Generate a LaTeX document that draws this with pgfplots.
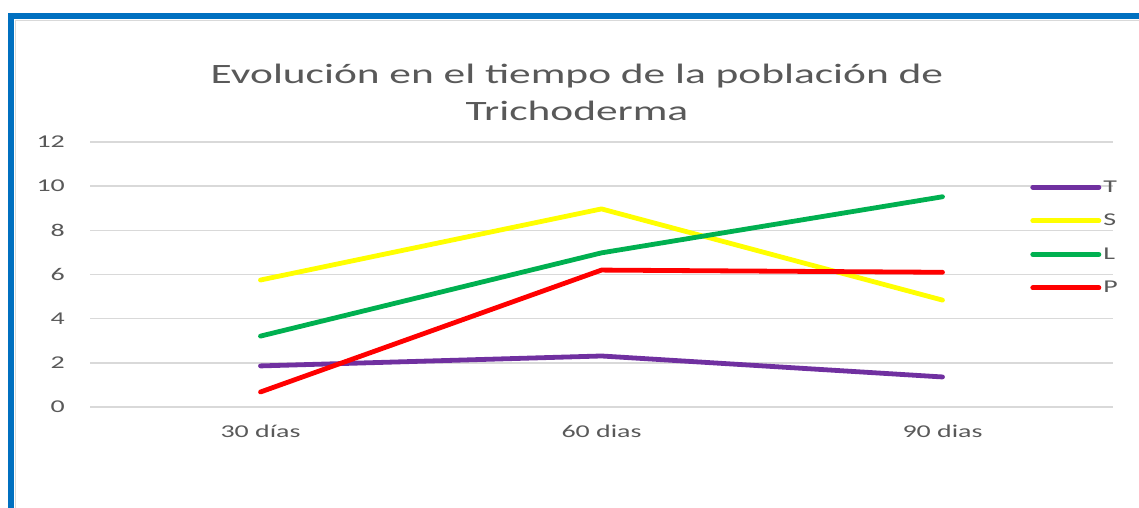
\documentclass[border=0pt]{standalone}
\usepackage{fontspec}
\setmainfont{Carlito}[FakeStretch=1.55]
\usepackage{pgfplots}
\pgfplotsset{compat=1.18}
\definecolor{cT}{HTML}{7030A0}
\definecolor{cS}{HTML}{FFFF00}
\definecolor{cL}{HTML}{00B050}
\definecolor{cP}{HTML}{FF0000}
\definecolor{txt}{HTML}{595959}
\definecolor{grd}{HTML}{D9D9D9}
\definecolor{frame}{HTML}{0070C0}
\begin{document}
\begin{tikzpicture}
\path[use as bounding box] (0pt,0pt) rectangle (1139pt,508pt);
\fill[white] (0pt,0pt) rectangle (1139pt,508pt);
% screenshot frame
\fill[frame] (8pt,0pt) rectangle (14pt,495pt);
\fill[frame] (8pt,489pt) rectangle (1139pt,495pt);
\draw[grd, line width=1pt] (15.5pt,0pt) -- (15.5pt,487.5pt) -- (1139pt,487.5pt);
% title
\node[txt, font=\fontsize{28}{32}\selectfont] at (577pt,432pt) {Evolución en el tiempo de la población de};
\node[txt, font=\fontsize{28}{32}\selectfont] at (577pt,397pt) {Trichoderma};
\begin{axis}[
  at={(90pt,101pt)}, anchor=south west,
  scale only axis, width=1023pt, height=265pt,
  xmin=-0.5, xmax=2.5, ymin=0, ymax=12,
  xtick={0,1,2}, xticklabels={30 días, 60 dias, 90 dias},
  ytick={0,2,...,12},
  axis line style={draw=none},
  major tick length=0pt,
  ymajorgrids, grid style={grd, line width=1.5pt},
  tick label style={txt, font=\fontsize{18}{21}\selectfont},
  /pgf/number format/assume math mode=true,
  yticklabel style={anchor=east, inner sep=0pt, xshift=-25pt},
  xticklabel style={anchor=north, inner sep=0pt, yshift=-18pt},
  legend style={at={(rel axis cs:0.919,0.855)}, anchor=north west, draw=none, fill=none,
    inner sep=0pt, row sep=20.5pt, font=\fontsize{18}{21}\selectfont, text=txt,
    nodes={inner sep=0pt}},
  legend cell align=left,
  legend image code/.code={\draw[#1, line width=5pt, line cap=round] (0pt,0pt) -- (66pt,0pt);},
  every axis plot/.append style={line width=4.8pt, line cap=round, line join=round},
]
\addplot[cT, no marks] coordinates {(0,1.86) (1,2.31) (2,1.36)};
\addplot[cS, no marks] coordinates {(0,5.75) (1,8.97) (2,4.84)};
\addplot[cL, no marks] coordinates {(0,3.21) (1,6.98) (2,9.52)};
\addplot[cP, no marks] coordinates {(0,0.68) (1,6.20) (2,6.10)};
\legend{\hspace{2pt}T,\hspace{2pt}S,\hspace{2pt}L,\hspace{2pt}P}
\end{axis}
\end{tikzpicture}
\end{document}
